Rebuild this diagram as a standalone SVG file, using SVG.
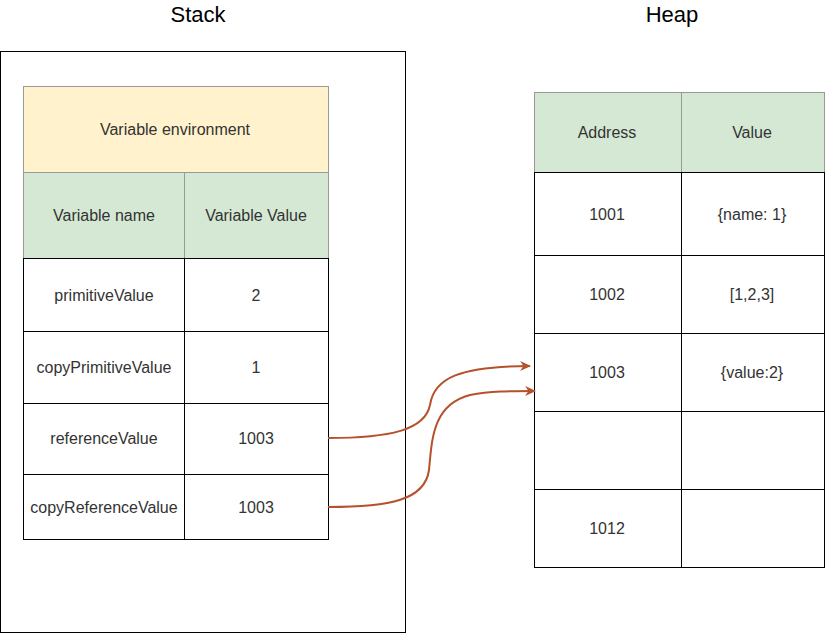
<svg xmlns="http://www.w3.org/2000/svg" width="826" height="634" viewBox="0 0 826 634">
<defs>
<style>
text{font-family:"Liberation Sans",Arial,sans-serif;font-size:16px;fill:#333;text-anchor:middle;dominant-baseline:central}
.title{font-size:22px;fill:#000}
.cell{fill:#fff;stroke:#000;stroke-width:1}
.hdr{fill:#d5e8d4;stroke:#999;stroke-width:1}
.env{fill:#fff2cc;stroke:#999;stroke-width:1}
.edge{fill:none;stroke:#b5522b;stroke-width:2;marker-end:url(#ah)}
</style>
<marker id="ah" viewBox="0 0 10 10" refX="9" refY="5" markerWidth="11" markerHeight="11" orient="auto" markerUnits="userSpaceOnUse">
<path d="M0,0.5 L10,5 L0,9.5 L3,5 z" fill="#b5522b"/>
</marker>
</defs>
<text class="title" x="198" y="14">Stack</text>
<text class="title" x="672" y="14">Heap</text>
<g id="stack">
<rect x="0.5" y="51.5" width="405" height="581" fill="#fff" stroke="#000"/>
</g>
<g id="var-env">
<rect class="env" x="23.5" y="86.5" width="305" height="86"/>
<text x="175" y="129">Variable environment</text>
<rect class="hdr" x="23.5" y="172.5" width="161" height="86"/>
<rect class="hdr" x="184.5" y="172.5" width="144" height="86"/>
<text x="104" y="215">Variable name</text>
<text x="256" y="215">Variable Value</text>
<rect class="cell" x="23.5" y="258.5" width="161" height="73"/>
<rect class="cell" x="184.5" y="258.5" width="144" height="73"/>
<text x="104" y="295">primitiveValue</text>
<text x="256" y="295">2</text>
<rect class="cell" x="23.5" y="331.5" width="161" height="72"/>
<rect class="cell" x="184.5" y="331.5" width="144" height="72"/>
<text x="104" y="367">copyPrimitiveValue</text>
<text x="256" y="367">1</text>
<rect class="cell" x="23.5" y="403.5" width="161" height="71"/>
<rect class="cell" x="184.5" y="403.5" width="144" height="71"/>
<text x="104" y="438">referenceValue</text>
<text x="256" y="438">1003</text>
<rect class="cell" x="23.5" y="474.5" width="161" height="65"/>
<rect class="cell" x="184.5" y="474.5" width="144" height="65"/>
<text x="104" y="507">copyReferenceValue</text>
<text x="256" y="507">1003</text>
</g>
<g id="heap">
<rect class="hdr" x="534.5" y="92.5" width="147" height="80"/>
<rect class="hdr" x="681.5" y="92.5" width="143" height="80"/>
<text x="607" y="132">Address</text>
<text x="752" y="132">Value</text>
<rect class="cell" x="534.5" y="172.5" width="147" height="83"/>
<rect class="cell" x="681.5" y="172.5" width="143" height="83"/>
<text x="607" y="214">1001</text>
<text x="752" y="214">{name: 1}</text>
<rect class="cell" x="534.5" y="255.5" width="147" height="78"/>
<rect class="cell" x="681.5" y="255.5" width="143" height="78"/>
<text x="607" y="294">1002</text>
<text x="752" y="294">[1,2,3]</text>
<rect class="cell" x="534.5" y="333.5" width="147" height="78"/>
<rect class="cell" x="681.5" y="333.5" width="143" height="78"/>
<text x="607" y="372">1003</text>
<text x="752" y="372">{value:2}</text>
<rect class="cell" x="534.5" y="411.5" width="147" height="78"/>
<rect class="cell" x="681.5" y="411.5" width="143" height="78"/>
<rect class="cell" x="534.5" y="489.5" width="147" height="78"/>
<rect class="cell" x="681.5" y="489.5" width="143" height="78"/>
<text x="607" y="528">1012</text>
</g>
<g id="connectors">
<path class="edge" d="M328,438 C390,438 425,430 430,405 C434,378 460,366 530,366"/>
<path class="edge" d="M328,507 C390,507 425,500 429,470 C432,440 432,405 470,395 C490,391 510,391 535,391"/>
</g>
</svg>
